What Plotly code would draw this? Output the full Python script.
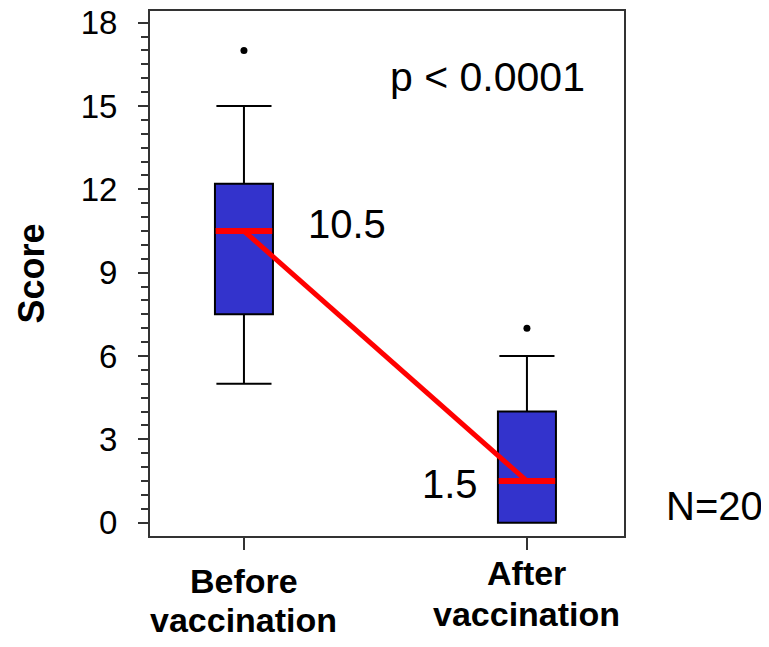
import plotly.graph_objects as go

# box summary values
groups = [["Before", "vaccination"], ["After", "vaccination"]]
positions = [0, 1]
q1 = [7.5, 0.0]
medians = [10.5, 1.5]
q3 = [12.2, 4.0]
lower_whisker = [5.0, 0.0]
upper_whisker = [15.0, 6.0]
outliers = [17.0, 7.0]
median_labels = ["10.5", "1.5"]

FONT = "Arial, Liberation Sans, sans-serif"
BOX_BLUE = "#3333CC"
half_w = 0.1

fig = go.Figure()

for i in range(2):
    fig.add_trace(
        go.Box(
            x=[positions[i]],
            q1=[q1[i]],
            median=[medians[i]],
            q3=[q3[i]],
            lowerfence=[lower_whisker[i]],
            upperfence=[upper_whisker[i]],
            width=0.205,
            whiskerwidth=0.95,
            fillcolor=BOX_BLUE,
            line=dict(color="black", width=2),
            boxpoints=False,
            showlegend=False,
            hoverinfo="skip",
        )
    )

# outliers
fig.add_trace(
    go.Scatter(
        x=positions,
        y=outliers,
        mode="markers",
        marker=dict(color="black", size=7),
        showlegend=False,
    )
)

# red median bars + connecting line
for i in range(2):
    fig.add_trace(
        go.Scatter(
            x=[positions[i] - half_w, positions[i] + half_w],
            y=[medians[i], medians[i]],
            mode="lines",
            line=dict(color="#FF0000", width=6),
            showlegend=False,
        )
    )
fig.add_trace(
    go.Scatter(
        x=positions,
        y=medians,
        mode="lines",
        line=dict(color="#FF0000", width=5),
        showlegend=False,
    )
)

# median value labels
fig.add_annotation(x=0.22, y=medians[0] + 0.25, text=median_labels[0], showarrow=False,
                   xanchor="left", font=dict(size=40, family=FONT, color="black"))
fig.add_annotation(x=0.834, y=medians[1] - 0.1, text=median_labels[1], showarrow=False,
                   xanchor="right", font=dict(size=40, family=FONT, color="black"))

fig.add_annotation(x=0.922, y=16.04, xref="paper", text="p < 0.0001", showarrow=False,
                   xanchor="right", font=dict(size=41, family=FONT, color="black"))
fig.add_annotation(x=1.297, y=0.6, xref="paper", text="N=20", showarrow=False,
                   xanchor="right", font=dict(size=40, family=FONT, color="black"))

# category labels, one annotation per line
line_y = [[-0.0857, -0.160], [-0.0705, -0.1495]]
for i in range(2):
    for j in range(2):
        fig.add_annotation(x=positions[i], y=line_y[i][j], yref="paper",
                           text="<b>" + groups[i][j] + "</b>",
                           showarrow=False, xanchor="center", yanchor="middle",
                           font=dict(size=34, family=FONT, color="black"))

fig.add_annotation(x=-0.251, y=0.5, xref="paper", yref="paper", text="<b>Score</b>",
                   textangle=-90, showarrow=False, xanchor="center", yanchor="middle",
                   font=dict(size=36, family=FONT, color="black"))

# page body has an 8px margin, so the figure is trimmed to fit the window
fig.update_layout(
    width=761,
    height=639,
    margin=dict(l=142, r=145, t=3, b=111),
    plot_bgcolor="white",
    paper_bgcolor="white",
    font=dict(family=FONT, color="black"),
    showlegend=False,
)

fig.update_xaxes(
    range=[-0.332, 1.343],
    tickvals=positions,
    showticklabels=False,
    ticks="outside",
    ticklen=12,
    tickwidth=2,
    tickcolor="#333333",
    showline=True,
    linecolor="#333333",
    linewidth=2,
    mirror=True,
    showgrid=False,
    zeroline=False,
    automargin=False,
)

fig.update_yaxes(
    range=[-0.479, 18.42],
    tickvals=[0, 3, 6, 9, 12, 15, 18],
    ticks="outside",
    ticklen=10,
    tickwidth=2,
    tickcolor="#333333",
    tickfont=dict(size=33, family=FONT, color="black"),
    ticklabelstandoff=14,
    ticklabeloverflow="allow",
    minor=dict(dtick=0.5, tick0=0, ticks="outside", ticklen=7, tickwidth=2,
               tickcolor="#333333", showgrid=False),
    showline=True,
    linecolor="#333333",
    linewidth=2,
    mirror=True,
    showgrid=False,
    zeroline=False,
    automargin=False,
)

fig.write_html("out.html")
